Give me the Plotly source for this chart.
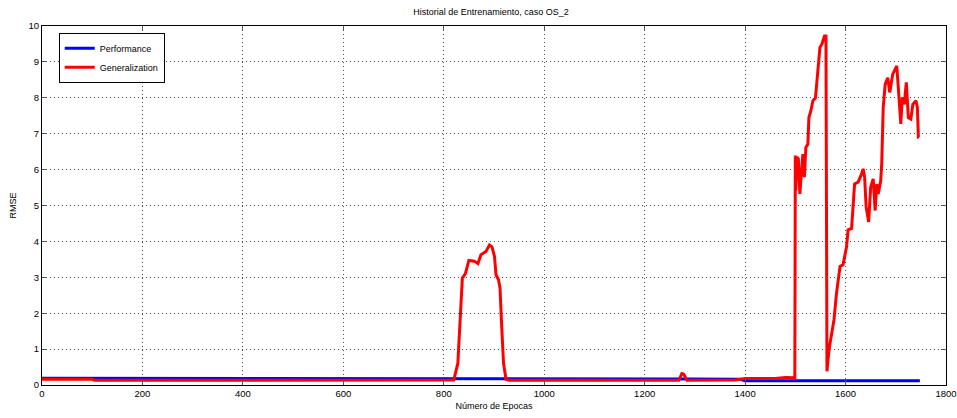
import plotly.graph_objects as go

# Training history: epochs vs RMSE for the two monitored series
perf_epochs = [0, 200, 400, 600, 800, 830, 920, 1000, 1200, 1270, 1290, 1390, 1400, 1600, 1748]
perf_rmse = [0.19, 0.19, 0.19, 0.19, 0.18, 0.19, 0.19, 0.17, 0.17, 0.17, 0.17, 0.16, 0.12, 0.12, 0.12]

gen_epochs = [
    0, 100, 105, 300, 500, 700, 820, 828, 833, 837, 843, 850, 861, 868, 874, 884,
    891, 896, 901, 904, 909, 912, 915, 919, 924, 930, 1100, 1268, 1274, 1278, 1284,
    1380, 1400, 1460, 1480, 1499, 1500, 1501, 1503, 1506, 1509, 1512, 1515, 1518,
    1521, 1525, 1527, 1531, 1535, 1540, 1542, 1546, 1549, 1553, 1558, 1561, 1561.5,
    1563, 1567, 1572, 1577, 1582, 1589, 1595, 1602, 1605, 1612, 1618, 1625, 1632,
    1635, 1638, 1641, 1646, 1650, 1655, 1659, 1662, 1665, 1670, 1672, 1675, 1679,
    1684, 1688, 1694, 1699, 1702, 1705, 1710, 1713, 1717, 1721, 1725, 1730, 1734,
    1740, 1743, 1745, 1746,
]
gen_rmse = [
    0.16, 0.16, 0.13, 0.13, 0.13, 0.13, 0.14, 0.6, 1.8, 2.98, 3.1, 3.47, 3.45, 3.38,
    3.63, 3.72, 3.9, 3.85, 3.58, 3.07, 2.93, 2.7, 1.73, 0.6, 0.16, 0.13, 0.13, 0.13,
    0.32, 0.3, 0.13, 0.14, 0.18, 0.18, 0.21, 0.2, 6.39, 5.42, 6.35, 6.3, 5.32, 5.88,
    6.43, 5.79, 6.62, 6.71, 7.45, 7.64, 7.92, 7.99, 8.29, 8.94, 9.4, 9.5, 9.72, 9.72,
    0.6, 0.38, 0.98, 1.45, 1.82, 2.56, 3.3, 3.35, 3.85, 4.32, 4.36, 5.6, 5.65, 5.88,
    6.02, 5.79, 4.96, 4.54, 5.51, 5.74, 4.86, 5.6, 5.32, 5.69, 6.16, 7.73, 8.38, 8.56,
    8.15, 8.66, 8.84, 8.89, 8.29, 7.27, 8.01, 7.82, 8.43, 7.45, 7.41, 7.82, 7.92, 7.73,
    6.9, 6.9,
]

x_ticks = [0, 200, 400, 600, 800, 1000, 1200, 1400, 1600, 1800]
y_ticks = [0, 1, 2, 3, 4, 5, 6, 7, 8, 9, 10]

FONT = "Liberation Sans, Arial, sans-serif"

fig = go.Figure()
fig.add_trace(go.Scatter(x=perf_epochs, y=perf_rmse, mode="lines", name="Performance",
                         line=dict(color="#0000ff", width=3)))
fig.add_trace(go.Scatter(x=gen_epochs, y=gen_rmse, mode="lines", name="Generalization",
                         line=dict(color="#ff0000", width=3)))

axis_common = dict(
    showline=True, linecolor="#000000", linewidth=1, mirror="ticks",
    ticks="inside", ticklen=5, tickcolor="#555555", automargin=False,
    ticklabeloverflow="allow",
    showgrid=True, gridcolor="rgba(0,0,0,0.7)", griddash="1px,3px", gridwidth=1,
    zeroline=False, tickfont=dict(size=9.5, color="#000000", family=FONT),
)

fig.update_layout(
    width=957, height=418,
    margin=dict(l=42, r=11, t=26, b=33),
    paper_bgcolor="white", plot_bgcolor="white",
    font=dict(family=FONT, size=9, color="#000000"),
    title=dict(text="Historial de Entrenamiento, caso OS_2", x=0.513, xanchor="center",
               y=0.972, yanchor="middle", font=dict(size=9)),
    xaxis=dict(range=[0, 1800], tickvals=x_ticks, ticktext=[str(v) for v in x_ticks],
               title=dict(text="Número de Epocas", font=dict(size=9), standoff=4),
               **axis_common),
    yaxis=dict(range=[0, 10], tickvals=y_ticks, ticktext=[str(v) for v in y_ticks],
               title=dict(text="RMSE", font=dict(size=9), standoff=10),
               **axis_common),
    legend=dict(x=0.0185, y=0.981, xanchor="left", yanchor="top",
                bordercolor="#000000", borderwidth=1, bgcolor="white",
                font=dict(size=9, family=FONT), tracegroupgap=0),
    showlegend=True,
)

fig.write_html("out.html")
